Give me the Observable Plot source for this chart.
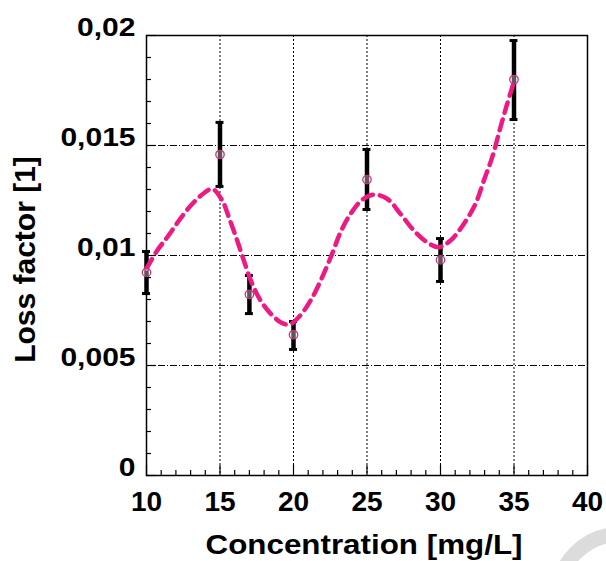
<!DOCTYPE html>
<html><head><meta charset="utf-8">
<script src="https://cdn.jsdelivr.net/npm/d3@7"></script>
<script src="https://cdn.jsdelivr.net/npm/@observablehq/plot@0.6"></script>
<style>
body{margin:0;background:#fff;overflow:hidden;}
#wrap{position:relative;width:606px;height:561px;overflow:hidden;background:#fff;}
#wrap svg{position:absolute;left:0;top:0;}
#mark{position:absolute;left:550px;top:527px;width:140px;height:140px;border:15px solid #dcdcdc;border-radius:50%;box-sizing:border-box;z-index:2;}
</style></head><body><div id="wrap"><div id="mark"></div></div>
<script>
// measured points
const conc = [10, 15, 17, 20, 25, 30, 35];
const loss = [0.00923, 0.01459, 0.00823, 0.0064, 0.01345, 0.0098, 0.018];
const errLow = [0.00827, 0.01314, 0.00736, 0.00573, 0.01209, 0.00882, 0.01618];
const errHigh = [0.01018, 0.01605, 0.00909, 0.0070, 0.01482, 0.01077, 0.01977];

// fitted curve
const fitX = [10, 10.73, 11.41, 11.97, 12.54, 13.22, 13.9, 14.47, 15.15, 15.6, 16.17, 16.62, 17.19, 17.76, 18.44, 19.12, 19.68, 20.36, 21.16, 21.95, 22.63, 23.2, 23.88, 24.67, 25.46, 26.37, 27.28, 28.18, 29.09, 29.88, 30.68, 31.59, 32.38, 32.95, 33.52, 34.08, 34.54, 34.99];
const fitY = [0.0094, 0.01023, 0.01083, 0.01136, 0.01189, 0.01242, 0.01283, 0.01303, 0.0125, 0.01174, 0.01068, 0.00977, 0.00871, 0.00795, 0.00736, 0.00697, 0.00686, 0.0072, 0.00795, 0.00901, 0.01008, 0.01106, 0.01189, 0.01253, 0.01277, 0.01258, 0.01189, 0.01114, 0.0106, 0.01038, 0.01068, 0.01144, 0.01235, 0.01341, 0.01447, 0.01583, 0.0169, 0.01788];

// ticks
const xTicks = [10, 15, 20, 25, 30, 35, 40];
const xTickLabels = ["10", "15", "20", "25", "30", "35", "40"];
const xMinor = [11,12,13,14,16,17,18,19,21,22,23,24,26,27,28,29,31,32,33,34,36,37,38,39];
const xGrid = [15, 20, 25, 30, 35];
const yTicks = [0, 0.005, 0.01, 0.015, 0.02];
const yTickLabels = ["0", "0,005", "0,01", "0,015", "0,02"];
const yMinor = [0.001,0.002,0.003,0.004,0.006,0.007,0.008,0.009,0.011,0.012,0.013,0.014,0.016,0.017,0.018,0.019];
const yGrid = [0.005, 0.01, 0.015];

const xTitle = "Concentration [mg/L]";
const yTitle = "Loss factor [1]";

const points = conc.map((c, i) => ({x: c, y: loss[i], lo: errLow[i], hi: errHigh[i]}));
const fit = fitX.map((x, i) => ({x, y: fitY[i]}));
const xLab = xTicks.map((t, i) => ({v: t, s: xTickLabels[i]}));
const yLab = yTicks.map((t, i) => ({v: t, s: yTickLabels[i]}));
const capHalf = 0.27;

const font = "'Liberation Sans', Arial, Helvetica, sans-serif";

const chart = Plot.plot({
  width: 606, height: 561,
  marginLeft: 146, marginRight: 19, marginTop: 35, marginBottom: 86,
  style: {fontFamily: font, background: "white"},
  x: {domain: [10, 40], axis: null},
  y: {domain: [0, 0.02], axis: null},
  marks: [
    Plot.gridX(xGrid, {stroke: "black", strokeOpacity: 1, strokeWidth: 1, strokeDasharray: "2,2"}),
    Plot.gridY(yGrid, {stroke: "black", strokeOpacity: 1, strokeWidth: 1, strokeDasharray: "7,2,1,2"}),
    Plot.axisX(xMinor, {anchor: "bottom", tickSize: -5, tickFormat: () => "", strokeWidth: 1.2}),
    Plot.axisX(xTicks, {anchor: "bottom", tickSize: -10, tickFormat: () => "", strokeWidth: 1.2}),
    Plot.axisY(yMinor, {anchor: "left", tickSize: -5, tickFormat: () => "", strokeWidth: 1.2}),
    Plot.axisY(yTicks, {anchor: "left", tickSize: -10, tickFormat: () => "", strokeWidth: 1.2}),
    Plot.frame({stroke: "black", strokeWidth: 1.5}),
    Plot.ruleX(points, {x: "x", y1: "lo", y2: "hi", stroke: "black", strokeWidth: 4.5}),
    Plot.ruleY(points, {y: "lo", x1: d => d.x - capHalf, x2: d => d.x + capHalf, stroke: "black", strokeWidth: 3}),
    Plot.ruleY(points, {y: "hi", x1: d => d.x - capHalf, x2: d => d.x + capHalf, stroke: "black", strokeWidth: 3}),
    Plot.line(fit, {x: "x", y: "y", curve: "catmull-rom", stroke: "#ee1a84", strokeWidth: 4.5, strokeDasharray: "11,7", strokeLinecap: "round"}),
    Plot.dot(points, {x: "x", y: "y", r: 4.2, fill: "white", fillOpacity: 0.35, stroke: "#d02a7e", strokeWidth: 1.3}),
    Plot.text(xLab, {x: "v", y: () => 0, text: "s", dy: 27, fontSize: 28, fontWeight: "bold", fill: "black"}),
    Plot.text(yLab, {x: () => 10, y: "v", text: "s", dx: -11, dy: -8, textAnchor: "end", fontSize: 25, fontWeight: "bold", fill: "black"}),
    Plot.text([xTitle], {frameAnchor: "bottom", text: d => d, dy: 70, dx: -3, lineAnchor: "middle", textAnchor: "middle", fontSize: 28, fontWeight: "bold", fill: "black"}),
    Plot.text([yTitle], {frameAnchor: "left", text: d => d, rotate: -90, dx: -121, dy: 4, lineAnchor: "middle", textAnchor: "middle", fontSize: 30, fontWeight: "bold", fill: "black"})
  ]
});

// horizontal stretch of some labels, as in the reference
chart.querySelectorAll("text").forEach(t => {
  const s = t.textContent;
  let sx = null;
  if (yTickLabels.includes(s)) sx = 1.2;
  else if (s === xTitle) sx = 1.12;
  if (sx) {
    const tr = t.getAttribute("transform") || "";
    t.setAttribute("transform", tr + ` scale(${sx},1)`);
  }
});

document.getElementById("wrap").prepend(chart);
</script>
</body></html>
